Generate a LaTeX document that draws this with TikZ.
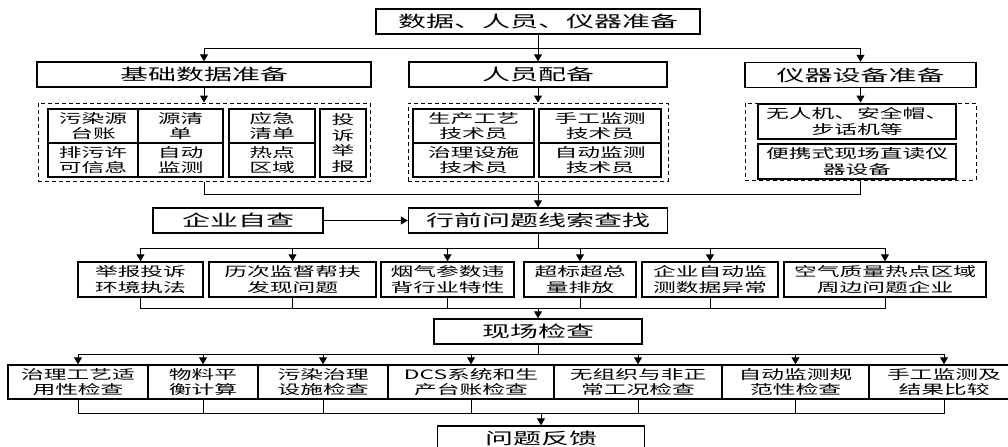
\documentclass[tikz,border=0pt]{standalone}
\usepackage{fontspec}
\newfontfamily\cjk[FakeStretch=1.75]{Noto Sans CJK SC}
\usetikzlibrary{arrows.meta}

\tikzset{
  box/.style={draw, line width=0.7pt, inner sep=0pt, align=center,
    font=\cjk\fontsize{6.5}{7.8}\selectfont},
  head/.style={box, font=\cjk\fontsize{8}{9.6}\selectfont},
  dbox/.style={draw, dash pattern=on 2pt off 1.5pt, line width=0.5pt, inner sep=0pt},
  sz/.style 2 args={minimum width=#1*0.5pt, minimum height=#2*0.5pt},
  arr/.style={-{Triangle[length=3.5pt,width=4pt]}},
}

\begin{document}
\begin{tikzpicture}[x=0.5pt,y=-0.5pt,line width=0.5pt]
\useasboundingbox (0,0) rectangle (1008,446);
\clip (0,0) rectangle (1008,446);

% preparation
\node[head,sz={324}{25}] (prep) at (538,21.5) {数据、人员、仪器准备};
\node[head,sz={334}{25}] (base) at (204,74.5) {基础数据准备};
\node[head,sz={258}{25}] (staff) at (538,74.5) {人员配备};
\node[head,sz={231}{25}] (equip) at (860.5,75) {仪器设备准备};

\coordinate (b1) at (538,48);
\draw[arr] (prep) -- (staff);
\draw[arr] (b1) -| (base);
\draw[arr] (b1) -| (equip);

\node[dbox,sz={332}{78}] (d1) at (204,142) {};
\node[dbox,sz={260}{78}] (d2) at (538,142) {};
\node[dbox,sz={231}{77}] (d3) at (860.5,141.5) {};
\draw[arr] (base) -- (d1);
\draw[arr] (staff) -- (d2);
\draw[arr] (equip) -- (d3);

\node[box,sz={90}{34}] (a1) at (93,126) {污染源\\台账};
\node[box,sz={90}{34}] (a2) at (93,160) {排污许\\可信息};
\node[box,sz={85}{34}] (a3) at (180.5,126) {源清\\单};
\node[box,sz={85}{34}] (a4) at (180.5,160) {自动\\监测};
\node[box,sz={86}{34}] (a5) at (272,126) {应急\\清单};
\node[box,sz={86}{34}] (a6) at (272,160) {热点\\区域};
\node[box,sz={46}{68}] (a7) at (343,143) {投\\诉\\举\\报};

\node[box,sz={121}{34}] (p1) at (473.5,126) {生产工艺\\技术员};
\node[box,sz={121}{34}] (p2) at (473.5,160) {治理设施\\技术员};
\node[box,sz={122}{34}] (p3) at (600,126) {手工监测\\技术员};
\node[box,sz={122}{34}] (p4) at (600,160) {自动监测\\技术员};

\node[box,sz={198}{35}] (e1) at (857,121.5) {无人机、安全帽、\\步话机等};
\node[box,sz={198}{35}] (e2) at (857,161.5) {便携式现场直读仪\\器设备};

% clue search
\node[head,sz={170}{25}] (self) at (238,220.5) {企业自查};
\node[head,sz={259}{25}] (find) at (538,220.5) {行前问题线索查找};
\draw (d1.south) -- ++(0,13) -| (d3.south);
\draw[arr] (d2) -- (find);
\draw[arr] (self) -- (find);

\node[box,sz={125}{35}] (r1) at (140.5,279.5) {举报投诉\\环境执法};
\node[box,sz={167}{35}] (r2) at (292.5,279.5) {历次监督帮扶\\发现问题};
\node[box,sz={133}{35}] (r3) at (447.5,279.5) {烟气参数违\\背行业特性};
\node[box,sz={112}{35}] (r4) at (580,279.5) {超标超总\\量排放};
\node[box,sz={136}{35}] (r5) at (710,279.5) {企业自动监\\测数据异常};
\node[box,sz={202}{35}] (r6) at (885,279.5) {空气质量热点区域\\周边问题企业};

\coordinate (b3) at (538,248);
\draw (find) -- (b3);
\foreach \n in {r1,r2,r3,r4,r5,r6}
  \draw[arr] (b3) -| (\n);

% site check
\node[head,sz={208}{25}] (check) at (538,331.5) {现场检查};
\coordinate (b4) at (538,308);
\foreach \n in {r1,r2,r3,r4,r5,r6}
  \draw (\n) |- (b4);
\draw[arr] (b4) -- (check);

\node[box,sz={140}{34}] (s1) at (78,382) {治理工艺适\\用性检查};
\node[box,sz={110}{34}] (s2) at (203,382) {物料平\\衡计算};
\node[box,sz={130}{34}] (s3) at (323,382) {污染治理\\设施检查};
\node[box,sz={166}{34}] (s4) at (471,382) {DCS系统和生\\产台账检查};
\node[box,sz={168}{34}] (s5) at (638,382) {无组织与非正\\常工况检查};
\node[box,sz={147}{34}] (s6) at (795.5,382) {自动监测规\\范性检查};
\node[box,sz={150}{34}] (s7) at (944,382) {手工监测及\\结果比较};

\coordinate (b5) at (538,354);
\draw (check) -- (b5);
\foreach \n in {s1,s2,s3,s4,s5,s6,s7}
  \draw[arr] (b5) -| (\n);

% feedback
\node[head,sz={207}{25}] (fb) at (541,438.5) {问题反馈};
\coordinate (b6) at (541,413);
\foreach \n in {s1,s2,s3,s4,s5,s6,s7}
  \draw (\n) |- (b6);
\draw[arr] (b6) -- (fb);

\end{tikzpicture}
\end{document}
